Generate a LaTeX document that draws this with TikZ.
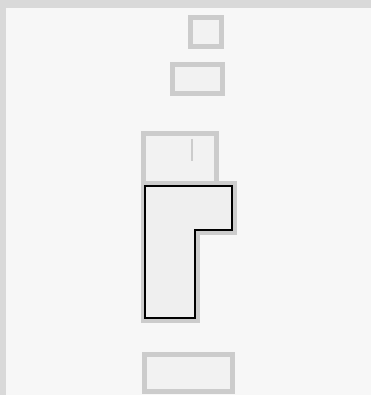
\documentclass[tikz,border=0pt]{standalone}
\usepackage{xcolor}
\usepackage{tikz}
\definecolor{frameband}{RGB}{217,217,217}
\definecolor{canvasbg}{RGB}{247,247,247}
\definecolor{ghostgray}{RGB}{204,204,204}
\definecolor{ghostfill}{RGB}{242,242,242}
\definecolor{selfill}{RGB}{239,239,239}

\begin{document}
\begin{tikzpicture}[x=1pt, y=-1pt,
  ghost/.style={draw=ghostgray, line width=5pt, fill=ghostfill},
  ghostline/.style={draw=ghostgray, line width=5pt},
  tick/.style={draw=ghostgray, line width=2pt},
  selected/.style={draw=black, line width=2pt, fill=selfill}]
% ---- frame ----
\fill[frameband] (0,0) rectangle (371,395);
\fill[canvasbg] (6,8.5) rectangle (371,395);
\useasboundingbox (0,0) rectangle (371,395);

% ---- ghost boxes (top to bottom) ----
\draw[ghost] (190.8,17.5) rectangle (221.5,46.8);
\draw[ghost] (172,64.2) rectangle (222,93.3);
\draw[ghost] (143.5,133.5) rectangle (216.5,186);
\draw[tick] (192,139) -- (192,161);
\draw[ghostline] (143.5,183.5) -- (234,183.5) -- (234,232.5)
  -- (197.5,232.5) -- (197.5,320.5) -- (143.5,320.5) -- cycle;
\draw[ghost] (144.8,354.8) rectangle (232.8,391.5);

% ---- selected L block ----
\draw[selected] (145,186) -- (232,186) -- (232,230)
  -- (195,230) -- (195,318) -- (145,318) -- cycle;
\end{tikzpicture}
\end{document}
